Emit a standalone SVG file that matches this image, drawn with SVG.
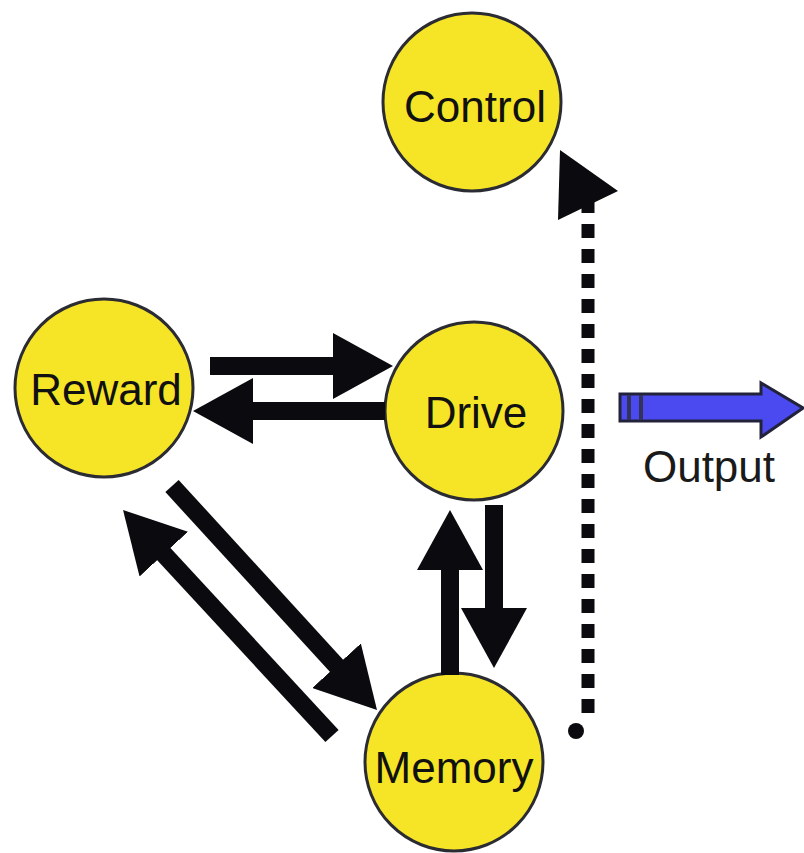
<svg xmlns="http://www.w3.org/2000/svg" width="804" height="853" viewBox="0 0 804 853">
<style>
.node circle{fill:#f5e526;stroke:#2b2b33;stroke-width:3}
.node text{font-family:"Liberation Sans",Arial,sans-serif;font-size:44px;fill:#111;text-anchor:middle}
.arr{stroke:#0a0a0f;stroke-width:18;fill:none}
.lbl{font-family:"Liberation Sans",Arial,sans-serif;font-size:44px;fill:#1a1a1a;text-anchor:middle}
</style>
<defs>
<marker id="ah" viewBox="0 0 60 66" refX="20" refY="33" markerWidth="60" markerHeight="66" markerUnits="userSpaceOnUse" orient="auto">
<path d="M0,0 L60,33 L0,66 z" fill="#0a0a0f"/>
</marker>
</defs>
<rect width="804" height="853" fill="#fff"/>
<g id="control" class="node"><circle cx="472" cy="102" r="89"/><text x="475" y="122">Control</text></g>
<g id="reward" class="node"><circle cx="104" cy="388" r="89"/><text x="106" y="405">Reward</text></g>
<g id="drive" class="node"><circle cx="474" cy="411" r="89"/><text x="476" y="428">Drive</text></g>
<g id="memory" class="node"><circle cx="454" cy="762" r="89"/><text x="454" y="783">Memory</text></g>
<g id="connectors">
<line class="arr" x1="210" y1="366" x2="353" y2="366" marker-end="url(#ah)"/>
<line class="arr" x1="385" y1="411" x2="233" y2="411" marker-end="url(#ah)"/>
<line class="arr" x1="494" y1="505" x2="494" y2="628" marker-end="url(#ah)"/>
<line class="arr" x1="450" y1="675" x2="450" y2="550" marker-end="url(#ah)"/>
<line class="arr" x1="172" y1="486" x2="350" y2="680.5" marker-end="url(#ah)"/>
<line class="arr" x1="332" y1="736" x2="150.2" y2="539.4" marker-end="url(#ah)"/>
<line x1="588" y1="713" x2="588" y2="200" stroke="#0a0a0f" stroke-width="13" stroke-dasharray="14 11"/>
<circle cx="576" cy="731" r="8" fill="#0a0a0f"/>
<polygon points="560,150 618,191 558,220" fill="#0a0a0f"/>
<g id="output-arrow">
<polygon points="620,394 761,394 761,383 803,408 761,437 761,421 620,421" fill="#4a4af0" stroke="#22223a" stroke-width="3" stroke-linejoin="miter"/>
<rect x="627" y="395" width="4" height="25" fill="#33335a"/>
<rect x="639" y="395" width="4" height="25" fill="#33335a"/>
</g>
</g>
<text class="lbl" x="709" y="482">Output</text>
</svg>
